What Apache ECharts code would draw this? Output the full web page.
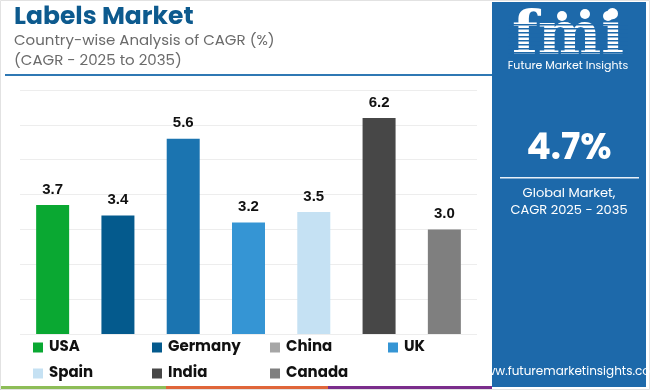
<!DOCTYPE html>
<html>
<head>
<meta charset="utf-8">
<script src="https://cdn.jsdelivr.net/npm/echarts@6/dist/echarts.min.js"></script>
<style>html,body{margin:0;padding:0;background:#fff}#c{width:650px;height:390px}</style>
</head>
<body>
<div id="c"></div>
<script>
const countries = ['USA','Germany','China','UK','Spain','India','Canada'];
const cagrValues = [3.7, 3.4, 5.6, 3.2, 3.5, 6.2, 3.0];
const barColors = ['#0aa832','#045a8d','#1b74b0','#3595d4','#c5e1f3','#474747','#7f7f7f'];
const legendColors = ['#0aa832','#045a8d','#a6a6a6','#3595d4','#c5e1f3','#474747','#7f7f7f'];
const yTicks = [0,1,2,3,4,5,6,7];
const titleText = 'Labels Market';
const subtitleLines = ['Country-wise Analysis of CAGR (%)', '(CAGR - 2025 to 2035)'];
const globalCagr = '4.7%';

const chart = echarts.init(document.getElementById('c'), null, {renderer:'canvas'});
const PANEL = '#1d69aa';

const series = countries.map((name, i) => ({
  name: name,
  type: 'bar',
  stack: 'all',
  barWidth: 33,
  itemStyle: {color: barColors[i]},
  label: {
    show: true, position: 'top', distance: 8,
    fontFamily: 'Liberation Sans, Arial, sans-serif', fontWeight: 'bold', fontSize: 15, color: '#111',
    formatter: p => Number(p.value).toFixed(1)
  },
  data: countries.map((c, j) => j === i ? cagrValues[i] : '-')
}));

const legendPos = [[33,340],[152,340],[270,340],[388,340],[33,366],[152,366],[270,366]];
const legends = countries.map((name, i) => ({
  left: legendPos[i][0], top: legendPos[i][1], padding: 0,
  icon: 'rect', itemWidth: 10, itemHeight: 10, itemGap: 0,
  selectedMode: false,
  textStyle: {fontFamily: 'Poppins, Inter, Noto Sans, sans-serif', fontWeight: 'bold', fontSize: 15, color: '#111', padding:[0,0,0,1]},
  data: [{name: name, itemStyle: {color: legendColors[i]}}]
}));

// stripes for logo
const stripes = [];
for (let y = 24; y < 58; y += 4) {
  stripes.push({type:'rect', shape:{x:508, y:y, width:120, height:1.4}, style:{fill:PANEL}, z:20});
}

chart.setOption({
  animation: false,
  grid: {left: 20, right: 173, top: 90, bottom: 56},
  xAxis: {
    type: 'category', data: countries,
    axisLine: {show: false}, axisTick: {show: false}, axisLabel: {show: false}
  },
  yAxis: {
    type: 'value', min: yTicks[0], max: yTicks[yTicks.length-1], interval: 1,
    axisLabel: {show: false}, axisLine: {show: false}, axisTick: {show: false},
    splitLine: {lineStyle: {color: '#ededed', width: 1}}
  },
  legend: legends,
  series: series,
  graphic: [
    {type:'rect', shape:{x:0.5, y:0.5, width:649, height:389}, style:{fill:'none', stroke:'#e2e2e2', lineWidth:1}, z:1},
    {type:'text', left: 14, top: 5, style:{text: titleText, fill:'#0d5a8e', font:'bold 25px Poppins, Inter, "Noto Sans", sans-serif'}},
    {type:'text', left: 14, top: 34, style:{text: subtitleLines[0], fill:'#6b6b6b', font:'15px Poppins, Inter, "Noto Sans", sans-serif'}},
    {type:'text', left: 14, top: 54, style:{text: subtitleLines[1], fill:'#6b6b6b', font:'15px Poppins, Inter, "Noto Sans", sans-serif'}},
    {type:'rect', shape:{x:5, y:74, width:487, height:2}, style:{fill:'#2f78b4'}},
    {type:'rect', shape:{x:0, y:386, width:166, height:4}, style:{fill:'#8dbd57'}},
    {type:'rect', shape:{x:166, y:386, width:162, height:4}, style:{fill:'#e0663a'}},
    {type:'rect', shape:{x:328, y:386, width:164, height:4}, style:{fill:'#7b2d8c'}},
    {type:'rect', shape:{x:492, y:2, width:154, height:385}, style:{fill:PANEL}, z:10},
    {type:'text', x:568, y:38, style:{text:'fmi', fill:'#fff', align:'center', verticalAlign:'middle', font:'bold 60px "DejaVu Serif", serif'}, z:15},
    {type:'circle', shape:{cx:562, cy:16, r:5}, style:{fill:'#fff'}, z:21},
    {type:'circle', shape:{cx:585, cy:14, r:5}, style:{fill:'#fff'}, z:21},
    {type:'circle', shape:{cx:608, cy:16, r:5}, style:{fill:'#fff'}, z:21},
    ...stripes,
    {type:'text', x:568, y:66, style:{text:'Future Market Insights', fill:'#fff', align:'center', verticalAlign:'middle', font:'11px Poppins, Inter, "Noto Sans", sans-serif'}, z:22},
    {type:'text', x:569, y:150, style:{text: globalCagr, fill:'#fff', align:'center', verticalAlign:'middle', font:'bold 36px Poppins, Inter, "Noto Sans", sans-serif'}, z:22},
    {type:'rect', shape:{x:500, y:177, width:139, height:1.5}, style:{fill:'#e8f0f8'}, z:22},
    {type:'text', x:569, y:194, style:{text:'Global Market,', fill:'#fff', align:'center', verticalAlign:'middle', font:'13px Poppins, Inter, "Noto Sans", sans-serif'}, z:22},
    {type:'text', x:569, y:211, style:{text:'CAGR 2025 - 2035', fill:'#fff', align:'center', verticalAlign:'middle', font:'13px Poppins, Inter, "Noto Sans", sans-serif'}, z:22},
    {type:'text', x:569, y:372, style:{text:'www.futuremarketinsights.com', fill:'#fff', align:'center', verticalAlign:'middle', font:'12px Poppins, Inter, "Noto Sans", sans-serif'}, z:22}
  ]
});
</script>
</body>
</html>
